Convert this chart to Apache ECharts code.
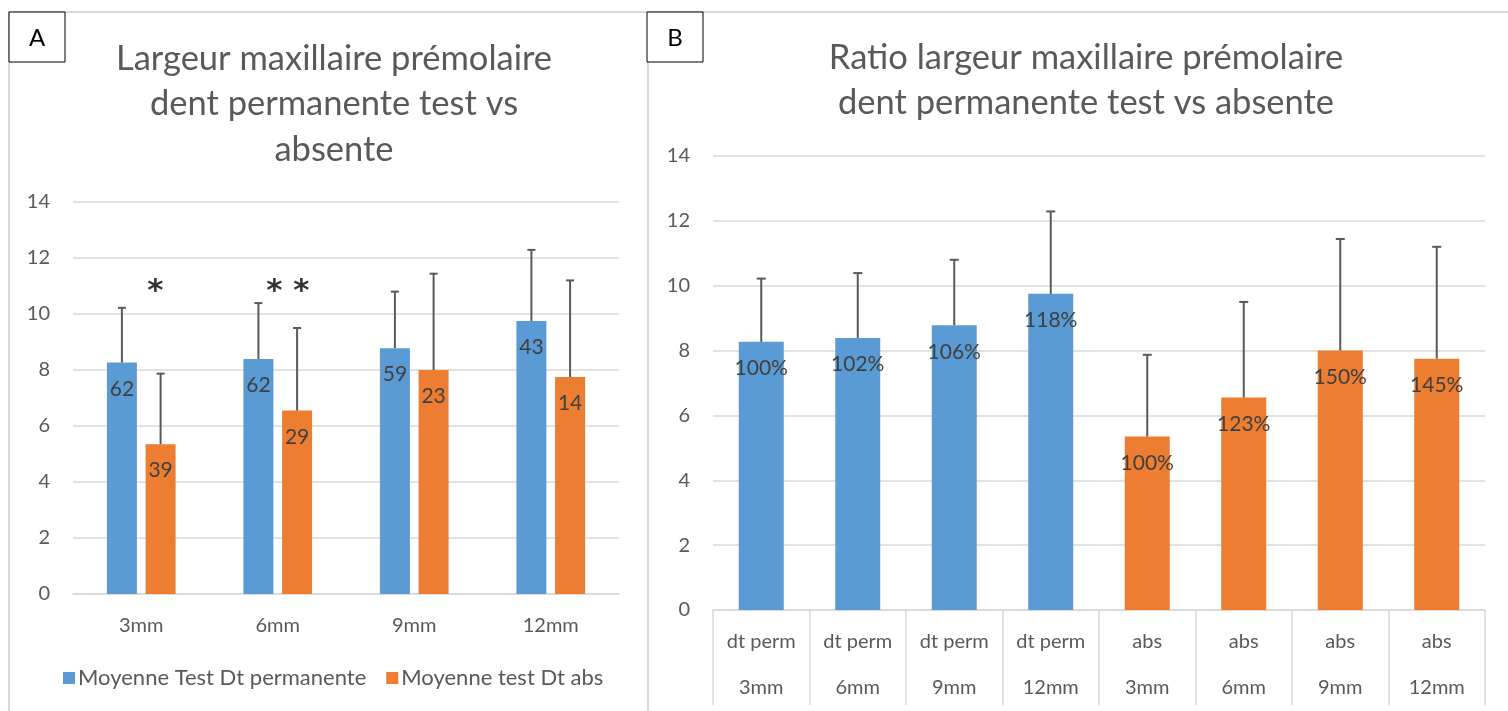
<!DOCTYPE html>
<html>
<head>
<meta charset="utf-8">
<script src="https://cdn.jsdelivr.net/npm/echarts@6/dist/echarts.min.js"></script>
<style>
html,body{margin:0;padding:0;background:#fff;}
#c{width:1508px;height:711px;}
</style>
</head>
<body>
<div id="c"></div>
<script>
// ---- data ----
const categoriesA = ['3mm', '6mm', '9mm', '12mm'];
const meanPerm = [8.27, 8.39, 8.78, 9.75];
const sdPerm = [1.95, 2.0, 2.02, 2.54];
const meanAbs = [5.35, 6.55, 8.0, 7.75];
const sdAbs = [2.52, 2.95, 3.44, 3.45];
const nPerm = [62, 62, 59, 43];
const nAbs = [39, 29, 23, 14];
const seriesNames = ['Moyenne Test Dt permanente', 'Moyenne test Dt abs'];
const categoriesB = ['dt perm\n3mm', 'dt perm\n6mm', 'dt perm\n9mm', 'dt perm\n12mm', 'abs\n3mm', 'abs\n6mm', 'abs\n9mm', 'abs\n12mm'];
const ratioLabels = ['100%', '102%', '106%', '118%', '100%', '123%', '150%', '145%'];
const significance = [{cat: 0, y: 10.8, text: '*'}, {cat: 1, y: 10.8, text: '* *'}];

// ---- style ----
const BLUE = '#5B9BD5', ORANGE = '#ED7D31';
const FONT = 'Lato, "Open Sans", sans-serif';
const TXT = '#595959', LBL = '#404040', GRID = '#d9d9d9', ERR = '#595959';
const barWA = 30, gapA = 8.7;

const chart = echarts.init(document.getElementById('c'), null, {renderer: 'canvas'});

function errRender(offset, capHalf) {
  return function (params, api) {
    const x = api.coord([api.value(0), api.value(1)]);
    const top = api.coord([api.value(0), api.value(1) + api.value(2)]);
    const cx = x[0] + offset;
    return {
      type: 'group',
      children: [
        {type: 'line', shape: {x1: cx, y1: x[1], x2: cx, y2: top[1]}, style: {stroke: ERR, lineWidth: 2}},
        {type: 'line', shape: {x1: cx - capHalf, y1: top[1], x2: cx + capHalf, y2: top[1]}, style: {stroke: ERR, lineWidth: 2}}
      ]
    };
  };
}

const meanB = meanPerm.concat(meanAbs);
const sdB = sdPerm.concat(sdAbs);

const yAxisCommon = {
  type: 'value', min: 0, max: 14, interval: 2,
  axisLine: {show: false}, axisTick: {show: false},
  splitLine: {lineStyle: {color: GRID, width: 1.5}},
  axisLabel: {color: TXT, fontSize: 20, fontFamily: FONT, margin: 23}
};

const option = {
  animation: false,
  backgroundColor: '#fff',
  title: [
    {text: 'Largeur maxillaire prémolaire\ndent permanente test vs\nabsente', left: 329, top: 31, textAlign: 'center',
     textStyle: {color: TXT, fontSize: 34.5, fontWeight: 'normal', fontFamily: FONT, lineHeight: 45.5}},
    {text: 'Ratio largeur maxillaire prémolaire\ndent permanente test vs absente', left: 1081, top: 31, textAlign: 'center',
     textStyle: {color: TXT, fontSize: 34.5, fontWeight: 'normal', fontFamily: FONT, lineHeight: 44.5}}
  ],
  legend: {
    data: seriesNames, left: 58, top: 662,
    itemWidth: 12, itemHeight: 12, itemGap: 20, icon: 'rect',
    textStyle: {color: TXT, fontSize: 22, fontFamily: FONT, padding: [0, 0, 0, -2]}
  },
  grid: [
    {left: 73, right: 1508 - 619, top: 202, bottom: 711 - 594},
    {left: 713, right: 1508 - 1485, top: 156, bottom: 711 - 610}
  ],
  xAxis: [
    {type: 'category', gridIndex: 0, data: categoriesA,
     axisLine: {lineStyle: {color: GRID, width: 1.5}}, axisTick: {show: false},
     axisLabel: {color: TXT, fontSize: 20, fontFamily: FONT, margin: 22}},
    {type: 'category', gridIndex: 1, data: categoriesB,
     axisLine: {lineStyle: {color: GRID, width: 1.5}},
     axisTick: {show: true, length: 95, interval: 0, lineStyle: {color: GRID, width: 1.5}},
     axisLabel: {color: TXT, fontSize: 20, fontFamily: FONT, margin: 9, lineHeight: 46, interval: 0}}
  ],
  yAxis: [
    Object.assign({gridIndex: 0}, yAxisCommon),
    Object.assign({gridIndex: 1}, yAxisCommon)
  ],
  series: [
    {name: seriesNames[0], type: 'bar', xAxisIndex: 0, yAxisIndex: 0, data: meanPerm,
     barWidth: barWA, barGap: (gapA / barWA * 100) + '%', itemStyle: {color: BLUE},
     label: {show: true, position: 'insideTop', distance: 16, color: LBL, fontSize: 21, fontFamily: FONT,
       formatter: p => String(nPerm[p.dataIndex])}},
    {name: seriesNames[1], type: 'bar', xAxisIndex: 0, yAxisIndex: 0, data: meanAbs,
     barWidth: barWA, itemStyle: {color: ORANGE},
     label: {show: true, position: 'insideTop', distance: 16, color: LBL, fontSize: 21, fontFamily: FONT,
       formatter: p => String(nAbs[p.dataIndex])}},
    {type: 'custom', xAxisIndex: 0, yAxisIndex: 0, z: 5,
     renderItem: errRender(-(barWA + gapA) / 2, 4),
     data: meanPerm.map((v, i) => [i, v, sdPerm[i]])},
    {type: 'custom', xAxisIndex: 0, yAxisIndex: 0, z: 5,
     renderItem: errRender((barWA + gapA) / 2, 4),
     data: meanAbs.map((v, i) => [i, v, sdAbs[i]])},
    {type: 'scatter', xAxisIndex: 0, yAxisIndex: 0, symbolSize: 0, silent: true,
     data: significance.map(s => ({value: [s.cat, s.y], label: {formatter: s.text, offset: [s.cat === 0 ? 14 : 10, 0]}})),
     label: {show: true, position: 'inside', color: '#000', fontSize: 31, fontWeight: 'bold', fontFamily: '"DejaVu Sans", sans-serif'}},
    {type: 'bar', xAxisIndex: 1, yAxisIndex: 1, barWidth: 45,
     data: meanB.map((v, i) => ({value: v, itemStyle: {color: i < meanPerm.length ? BLUE : ORANGE}})),
     label: {show: true, position: 'insideTop', distance: 16, color: LBL, fontSize: 21, fontFamily: FONT,
       formatter: p => ratioLabels[p.dataIndex]}},
    {type: 'custom', xAxisIndex: 1, yAxisIndex: 1, z: 5,
     renderItem: errRender(0, 4.5),
     data: meanB.map((v, i) => [i, v, sdB[i]])}
  ],
  graphic: [
    {type: 'rect', shape: {x: 9, y: 12, width: 639, height: 720}, style: {fill: 'none', stroke: GRID, lineWidth: 2}, z: -10},
    {type: 'rect', shape: {x: 648, y: 12, width: 880, height: 720}, style: {fill: 'none', stroke: GRID, lineWidth: 2}, z: -10},
    {type: 'rect', shape: {x: 9, y: 12, width: 56, height: 50}, style: {fill: '#fff', stroke: '#000', lineWidth: 1}, z: 10},
    {type: 'text', x: 37, y: 38, style: {text: 'A', fill: '#000', fontSize: 24, fontFamily: FONT, align: 'center', verticalAlign: 'middle'}, z: 11},
    {type: 'rect', shape: {x: 647, y: 12, width: 56, height: 50}, style: {fill: '#fff', stroke: '#000', lineWidth: 1}, z: 10},
    {type: 'text', x: 675, y: 38, style: {text: 'B', fill: '#000', fontSize: 24, fontFamily: FONT, align: 'center', verticalAlign: 'middle'}, z: 11}
  ]
};
chart.setOption(option);
</script>
</body>
</html>
